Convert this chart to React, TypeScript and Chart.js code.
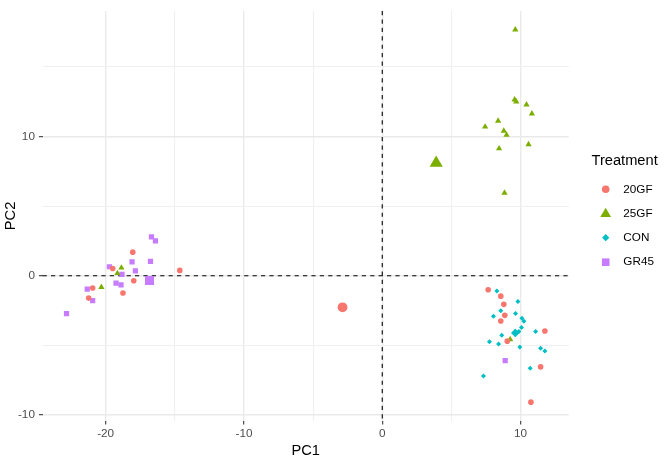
import React, { useEffect, useRef } from "react";
import { Chart, registerables } from "chart.js";

Chart.register(...registerables);

// ---- data ----
const groups = ["20GF", "25GF", "CON", "GR45"];
const colors = ["#F8766D", "#7CAE00", "#00BFC4", "#C77CFF"];

const pts20GF = [
  { x: -18.04, y: 1.7 }, { x: -14.64, y: 0.39 }, { x: -19.49, y: 0.53 }, { x: -17.97, y: -0.36 },
  { x: -20.94, y: -0.88 }, { x: -18.75, y: -1.23 }, { x: -21.23, y: -1.6 },
  { x: 7.66, y: -1.0 }, { x: 8.57, y: -1.46 }, { x: 8.79, y: -2.05 }, { x: 8.86, y: -2.84 },
  { x: 8.57, y: -3.24 }, { x: 11.76, y: -3.96 }, { x: 9.04, y: -4.69 }, { x: 11.45, y: -6.54 },
  { x: 10.75, y: -9.07 },
];
const pts25GF = [
  { x: 9.62, y: 17.67 }, { x: 9.57, y: 12.65 }, { x: 9.69, y: 12.5 }, { x: 10.43, y: 12.29 },
  { x: 10.82, y: 11.64 }, { x: 8.38, y: 11.12 }, { x: 7.44, y: 10.7 }, { x: 8.79, y: 10.4 },
  { x: 8.99, y: 10.12 }, { x: 10.58, y: 9.44 }, { x: 8.45, y: 9.14 }, { x: 8.84, y: 5.95 },
  { x: -18.86, y: 0.58 }, { x: -19.15, y: 0.18 }, { x: -20.31, y: -0.81 }, { x: 9.25, y: -4.57 },
];
const ptsCON = [
  { x: 8.29, y: -1.09 }, { x: 9.81, y: -1.84 }, { x: 8.57, y: -2.51 }, { x: 9.64, y: -2.7 },
  { x: 8.04, y: -2.91 }, { x: 10.1, y: -3.05 }, { x: 10.24, y: -3.26 }, { x: 10.07, y: -3.71 },
  { x: 9.88, y: -3.99 }, { x: 9.69, y: -4.08 }, { x: 11.09, y: -3.99 }, { x: 8.64, y: -4.27 },
  { x: 7.75, y: -4.74 }, { x: 8.41, y: -4.9 }, { x: 9.95, y: -5.11 }, { x: 11.45, y: -5.21 },
  { x: 11.76, y: -5.39 }, { x: 10.7, y: -6.63 }, { x: 7.32, y: -7.19 },
];
const ptsGR45 = [
  { x: -16.69, y: 2.79 }, { x: -16.4, y: 2.51 }, { x: -18.09, y: 1.0 }, { x: -16.76, y: 1.04 },
  { x: -19.73, y: 0.65 }, { x: -17.85, y: 0.36 }, { x: -18.82, y: 0.1 }, { x: -19.25, y: -0.53 },
  { x: -18.89, y: -0.65 }, { x: -21.33, y: -0.95 }, { x: -20.94, y: -1.79 }, { x: -22.83, y: -2.72 },
  { x: 8.89, y: -6.09 },
];
// group centroids (drawn larger)
const centroids = [
  { x: -2.87, y: -2.26 },
  { x: 3.9, y: 8.1 },
  { x: 9.62, y: -4.1 },
  { x: -16.83, y: -0.34 },
];

const xMajorTicks = [-20, -10, 0, 10];
const xMinorTicks = [-15, -5, 5];
const yMajorTicks = [-10, 0, 10];
const yMinorTicks = [-5, 5, 15];
const xTitle = "PC1";
const yTitle = "PC2";
const legendTitle = "Treatment";

const FONT = "'Liberation Sans', Arial, sans-serif";

export default function App() {
  const ref = useRef<HTMLCanvasElement | null>(null);

  useEffect(() => {
    document.body.style.margin = "0";
    const canvas = ref.current;
    if (!canvas) return;

    const styles = ["circle", "triangle", "rectRot", "rect"];
    const smallR = [2.8, 3.6, 2.5, 3.7];
    const bigR = [4.9, 7.6, 4.3, 6.4];
    const series = [pts20GF, pts25GF, ptsCON, ptsGR45];

    const datasets: any[] = [];
    series.forEach((d, i) => {
      datasets.push({
        label: groups[i],
        data: d,
        pointStyle: styles[i],
        pointRadius: smallR[i],
        backgroundColor: colors[i],
        borderWidth: 0,
        pointBorderWidth: 0,
        pointHoverRadius: smallR[i],
      });
    });
    centroids.forEach((c, i) => {
      datasets.push({
        label: groups[i] + " centroid",
        data: [c],
        pointStyle: styles[i],
        pointRadius: bigR[i],
        backgroundColor: colors[i],
        borderWidth: 0,
        pointBorderWidth: 0,
        pointHoverRadius: bigR[i],
      });
    });

    const isMajor = (list: number[], v: number) => list.indexOf(v) >= 0;

    const refLines = {
      id: "refLines",
      beforeDatasetsDraw(chart: any) {
        const { ctx, chartArea: a, scales } = chart;
        const x0 = scales.x.getPixelForValue(0);
        const y0 = scales.y.getPixelForValue(0);
        ctx.save();
        ctx.strokeStyle = "#000000";
        ctx.lineWidth = 1.1;
        ctx.setLineDash([4.2, 4.2]);
        ctx.beginPath();
        ctx.moveTo(a.left, y0);
        ctx.lineTo(a.right, y0);
        ctx.stroke();
        ctx.beginPath();
        ctx.moveTo(x0, a.top);
        ctx.lineTo(x0, a.bottom);
        ctx.stroke();
        ctx.restore();
      },
    };

    const legendPlugin = {
      id: "ggLegend",
      afterDraw(chart: any) {
        const ctx = chart.ctx;
        ctx.save();
        ctx.fillStyle = "#000000";
        ctx.textBaseline = "middle";
        ctx.textAlign = "left";
        ctx.font = `14.67px ${FONT}`;
        ctx.fillText(legendTitle, 591.5, 161);
        const sx = 605.7;
        const ys = [189.3, 213.3, 237.7, 262.2];
        groups.forEach((g, i) => {
          const y = ys[i];
          ctx.fillStyle = colors[i];
          ctx.beginPath();
          if (i === 0) {
            ctx.arc(sx, y, 3.8, 0, Math.PI * 2);
          } else if (i === 1) {
            ctx.moveTo(sx, y - 5.6);
            ctx.lineTo(sx + 5.4, y + 3.6);
            ctx.lineTo(sx - 5.4, y + 3.6);
            ctx.closePath();
          } else if (i === 2) {
            ctx.moveTo(sx, y - 3.6);
            ctx.lineTo(sx + 3.6, y);
            ctx.lineTo(sx, y + 3.6);
            ctx.lineTo(sx - 3.6, y);
            ctx.closePath();
          } else {
            ctx.rect(sx - 3.8, y - 3.8, 7.6, 7.6);
          }
          ctx.fill();
          ctx.fillStyle = "#000000";
          ctx.font = `11.73px ${FONT}`;
          ctx.fillText(g, 623.3, y);
        });
        ctx.restore();
      },
    };

    const gridWidth = (majors: number[]) => (c: any) => (isMajor(majors, c.tick?.value) ? 1.4 : 1.1);
    const gridColor = (majors: number[]) => (c: any) => (isMajor(majors, c.tick?.value) ? "#EAEAEA" : "#F0F0F0");

    const chart = new Chart(canvas, {
      type: "scatter",
      data: { datasets },
      options: {
        animation: false,
        responsive: false,
        events: [],
        layout: { padding: { left: 0, right: 100.2, top: 1.6, bottom: 0 } },
        plugins: { legend: { display: false }, tooltip: { enabled: false } },
        scales: {
          x: {
            type: "linear",
            min: -24.56,
            max: 13.49,
            afterBuildTicks: (s: any) => {
              s.ticks = [...xMajorTicks, ...xMinorTicks].sort((a, b) => a - b).map((v) => ({ value: v }));
            },
            afterFit: (s: any) => {
              s.height = 39.2;
            },
            border: { display: false },
            grid: {
              color: gridColor(xMajorTicks),
              lineWidth: gridWidth(xMajorTicks),
              drawTicks: true,
              tickLength: 3.7,
              tickWidth: 1.07,
              tickColor: (c: any) => (isMajor(xMajorTicks, c.tick?.value) ? "#333333" : "rgba(0,0,0,0)"),
            },
            ticks: {
              autoSkip: false,
              maxRotation: 0,
              padding: 2,
              color: "#4D4D4D",
              font: { family: FONT, size: 11.73 },
              callback: (v: any) => (isMajor(xMajorTicks, Number(v)) ? String(v) : ""),
            },
            title: {
              display: true,
              text: xTitle,
              color: "#000000",
              font: { family: FONT, size: 14.67 },
              padding: { top: 0, bottom: 0 },
            },
          },
          y: {
            type: "linear",
            min: -10.41,
            max: 19.01,
            afterBuildTicks: (s: any) => {
              s.ticks = [...yMajorTicks, ...yMinorTicks].sort((a, b) => a - b).map((v) => ({ value: v }));
            },
            afterFit: (s: any) => {
              s.width = 42.6;
            },
            border: { display: false },
            grid: {
              color: gridColor(yMajorTicks),
              lineWidth: gridWidth(yMajorTicks),
              drawTicks: true,
              tickLength: 3.7,
              tickWidth: 1.07,
              tickColor: (c: any) => (isMajor(yMajorTicks, c.tick?.value) ? "#333333" : "rgba(0,0,0,0)"),
            },
            ticks: {
              autoSkip: false,
              padding: 4,
              color: "#4D4D4D",
              font: { family: FONT, size: 11.73 },
              callback: (v: any) => (isMajor(yMajorTicks, Number(v)) ? String(v) : ""),
            },
            title: {
              display: true,
              text: yTitle,
              color: "#000000",
              font: { family: FONT, size: 14.67 },
              padding: { top: 2, bottom: 0 },
            },
          },
        },
      },
      plugins: [refLines, legendPlugin],
    } as any);

    return () => chart.destroy();
  }, []);

  return (
    <div style={{ position: "fixed", left: 0, top: 0, width: 669, height: 460, background: "#ffffff" }}>
      <canvas ref={ref} width={669} height={460} style={{ width: 669, height: 460, display: "block" }} />
    </div>
  );
}
